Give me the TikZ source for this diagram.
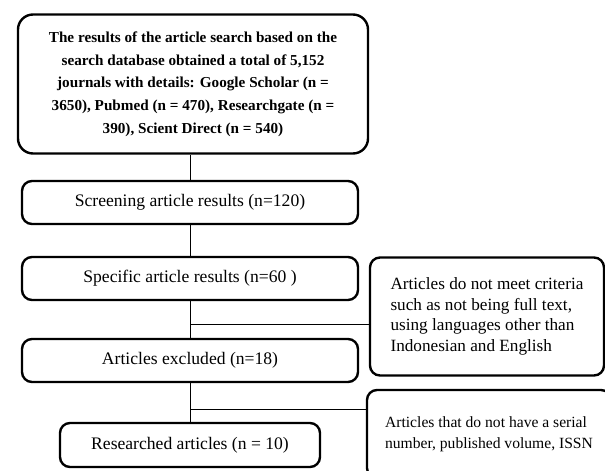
\documentclass[tikz,border=0pt]{standalone}
\usepackage{fontspec}
\setmainfont{Liberation Serif}
\usetikzlibrary{positioning}
\begin{document}
\begin{tikzpicture}[x=1pt, y=-1pt,
  box/.style={draw, line width=2.4pt, rounded corners=10pt, inner sep=0pt, align=center},
  side/.style={box, align=left},
  link/.style={line width=0.8pt}]
\useasboundingbox (0,0) rectangle (605,471);
% main column
\node[box, minimum width=350pt, minimum height=139pt, rounded corners=15pt,
  font=\fontsize{15.2}{22.7}\selectfont\bfseries] (search) at (193,84)
  {The results of the article search based on the\\search database obtained a total of 5,152\\journals with details: Google Scholar (n =\\3650), Pubmed (n = 470), Researchgate (n =\\390), Scient Direct (n = 540)};
\node[box, minimum width=336pt, minimum height=43pt, font=\fontsize{17.6}{20}\selectfont] (screen) at (190,202.5) {Screening article results (n=120)};
\node[box, minimum width=336pt, minimum height=43pt, font=\fontsize{17.6}{20}\selectfont] (spec) at (190,278.5) {Specific article results (n=60 )};
\node[box, minimum width=336pt, minimum height=43pt, font=\fontsize{17.6}{20}\selectfont] (excl) at (190,360.5) {Articles excluded (n=18)};
\node[box, minimum width=260pt, minimum height=44pt, font=\fontsize{17.6}{20}\selectfont] (res) at (190,445) {Researched articles (n = 10)};
% side boxes
\node[side, minimum width=234pt, minimum height=118pt,
  font=\fontsize{17.2}{20.5}\selectfont] (crit) at (487,316.5)
  {Articles do not meet criteria\\such as not being full text,\\using languages other than\\Indonesian and English};
\node[side, minimum width=244pt, minimum height=88pt,
  font=\fontsize{15.6}{21}\selectfont] (serial) at (489,434)
  {Articles that do not have a serial\\number, published volume, ISSN};
% connectors
\coordinate (j1) at (190,324);
\coordinate (j2) at (190,409);
\draw[link] (screen.north) -- (screen.north |- search.south);
\draw[link] (screen.south) -- (spec.north);
\draw[link] (spec.south) -- (excl.north);
\draw[link] (excl.south) -- (res.north);
\draw[link] (j1) -- (j1 -| crit.west);
\draw[link] (j2) -- (j2 -| serial.west);
\end{tikzpicture}
\end{document}
